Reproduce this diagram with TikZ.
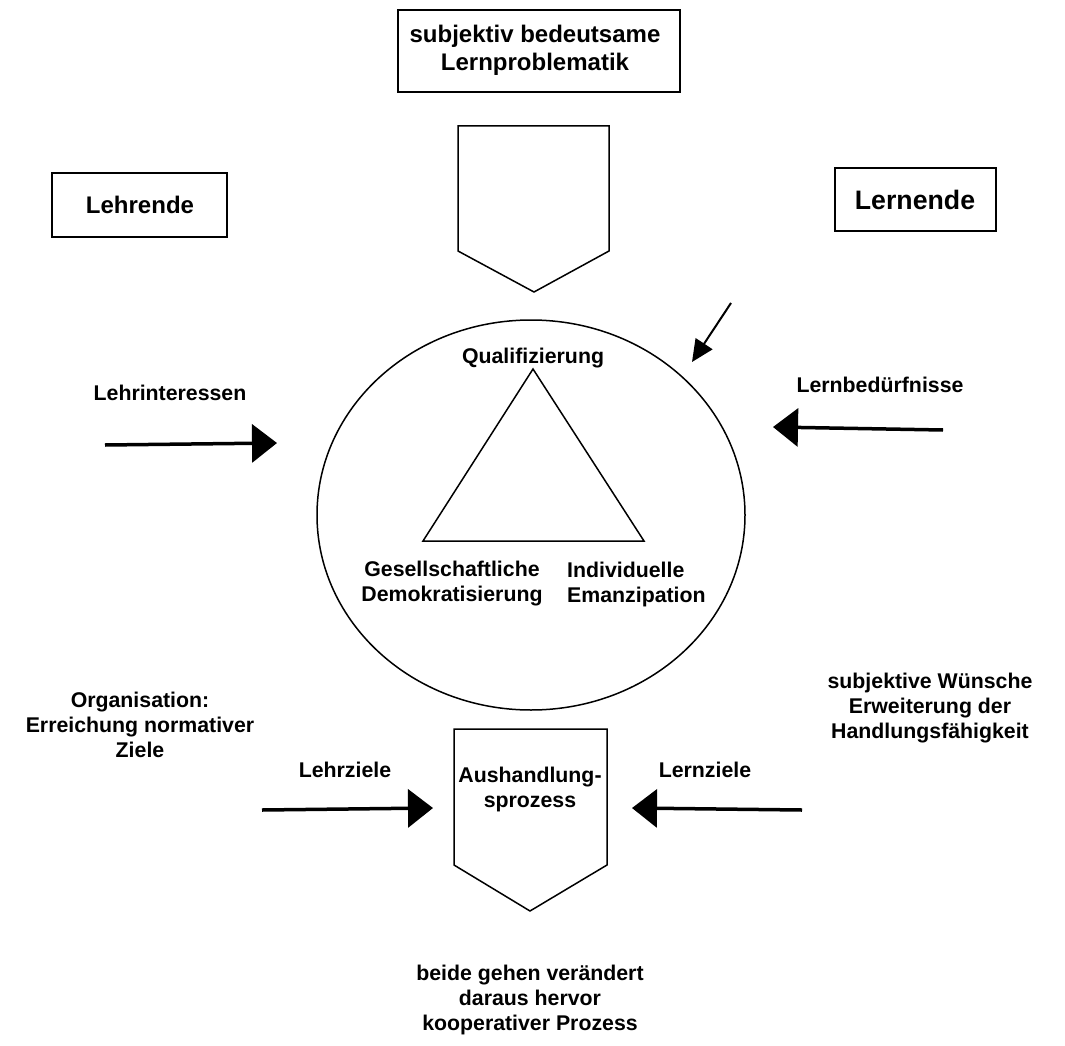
\documentclass[tikz,border=0pt]{standalone}
\usepackage{fontspec}
\setmainfont{Liberation Sans}
\usetikzlibrary{arrows.meta}
\begin{document}
\begin{tikzpicture}[x=1pt,y=-1pt,
  txt/.style={font=\fontsize{21.3}{25}\selectfont\bfseries, align=center, inner sep=0pt},
  txtb/.style={font=\fontsize{24}{28}\selectfont\bfseries, align=center, inner sep=0pt},
  txtc/.style={font=\fontsize{26.7}{30}\selectfont\bfseries, align=center, inner sep=0pt},
  frame/.style={draw, line width=2pt},
  shapeline/.style={draw, line width=1.5pt, line join=miter},
  bigarrow/.style={line width=3.5pt, -{Triangle[length=25pt,width=38pt]}},
  smallarrow/.style={line width=2pt, -{Triangle[length=22pt,width=20pt]}}]
\useasboundingbox (0,0) rectangle (1065,1046);

% top box
\draw[frame] (398,10) rectangle (680,92);
\node[txtb] (topt) at (535,50) {subjektiv bedeutsame\\Lernproblematik};

% top pentagon
\draw[shapeline] (458,126) -- (609,126) -- (609,251) -- (534,292) -- (458,251) -- cycle;

% side boxes
\draw[frame] (52,173) rectangle (227,237);
\node[txtb] (lehrende) at (140,205) {Lehrende};
\draw[frame] (835,168) rectangle (996,231);
\node[txtc] (lernende) at (915,200) {Lernende};

% ellipse and triangle
\draw[line width=1.5pt] (531,515) ellipse [x radius=214, y radius=195];
\draw[shapeline] (533,369) -- (644,541) -- (423,541) -- cycle;
\node[txt] (quali) at (533,358) {Qualifizierung};
\node[txt] (gesell) at (452,584) {Gesellschaftliche\\Demokratisierung};
\node[txt,align=left,anchor=west] (indiv) at (567,584) {Individuelle\\Emanzipation};

% small arrow
\coordinate (sa1) at (731,303);
\coordinate (sa2) at (692,362);
\draw[smallarrow] (sa1) -- (sa2);

% upper arrows
\node[txt] (lehrint) at (170,393) {Lehrinteressen};
\node[txt] (lernbed) at (880,385) {Lernbedürfnisse};
\coordinate (a1s) at (105,445);
\coordinate (a1e) at (277,443);
\draw[bigarrow] (a1s) -- (a1e);
\coordinate (a2s) at (943,430);
\coordinate (a2e) at (773,427);
\draw[bigarrow] (a2s) -- (a2e);

% lower side texts
\node[txt] (orga) at (140,725) {Organisation:\\Erreichung normativer\\Ziele};
\node[txt] (wuensche) at (930,708) {subjektive Wünsche\\Erweiterung der\\Handlungsfähigkeit};

% bottom pentagon
\draw[shapeline] (454,729) -- (607,729) -- (607,865) -- (530,911) -- (454,865) -- cycle;
\node[txt] (aush) at (530,789) {Aushandlung-\\sprozess};

\node[txt] (lehrz) at (345,770) {Lehrziele};
\node[txt] (lernz) at (705,770) {Lernziele};
\coordinate (b1s) at (262,810);
\coordinate (b1e) at (433,808);
\draw[bigarrow] (b1s) -- (b1e);
\coordinate (b2s) at (802,810);
\coordinate (b2e) at (632,808);
\draw[bigarrow] (b2s) -- (b2e);

% bottom text
\node[txt] (beide) at (530,1000) {beide gehen verändert\\daraus hervor\\kooperativer Prozess};
\end{tikzpicture}
\end{document}
